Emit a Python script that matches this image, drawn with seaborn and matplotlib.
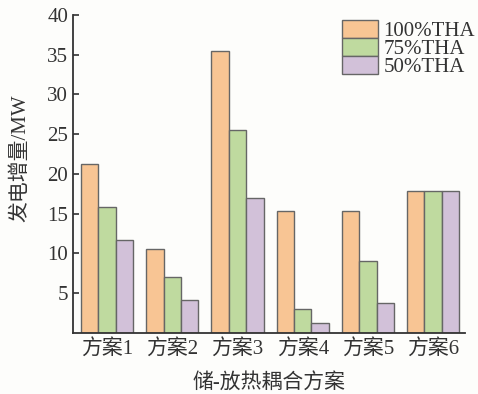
import pandas as pd
import numpy as np
import seaborn as sns
import matplotlib.pyplot as plt

schemes = ["方案1", "方案2", "方案3", "方案4", "方案5", "方案6"]
series = ["100%THA", "75%THA", "50%THA"]
tha100 = [21.3, 10.6, 35.5, 15.4, 15.4, 17.8]
tha75 = [15.9, 7.0, 25.5, 3.0, 9.1, 17.8]
tha50 = [11.7, 4.1, 17.0, 1.2, 3.8, 17.8]
colors = ["#F8C594", "#BFDA9F", "#D2C1D9"]

df = pd.DataFrame({
    "scheme": schemes * 3,
    "case": [s for s in series for _ in schemes],
    "value": tha100 + tha75 + tha50,
})

sns.set_style("ticks")
plt.rcParams["font.family"] = ["Liberation Serif", "Noto Sans CJK SC"]
plt.rcParams["axes.unicode_minus"] = False

fig = plt.figure(figsize=(4.78, 3.94), dpi=100, facecolor="#FDFDFB")
ax = fig.add_axes([0.153, 0.155, 0.82, 0.807])
ax.set_facecolor("#FDFDFB")

sns.barplot(data=df, x="scheme", y="value", hue="case", palette=colors,
            saturation=1, width=0.8, edgecolor="#666666", linewidth=1, ax=ax)

ax.set_ylim(0, 40)
ax.set_xlim(-0.52, 5.49)
ax.set_yticks([5, 10, 15, 20, 25, 30, 35, 40])
ax.tick_params(axis="both", direction="in", labelsize=15, color="#333333",
               width=1.2, length=4, labelcolor="#333333")
ax.tick_params(axis="x", pad=4)
ax.set_ylabel("发电增量/MW", fontsize=15, color="#333333")
ax.set_xlabel("储-放热耦合方案", fontsize=15, color="#333333", labelpad=10)
ax.yaxis.set_label_coords(-0.11, 0.55)
sns.despine(ax=ax)
for sp in ["left", "bottom"]:
    ax.spines[sp].set_linewidth(1.3)
    ax.spines[sp].set_color("#333333")

leg = ax.legend(loc="upper right", frameon=False, fontsize=15, handlelength=1.73,
                handleheight=0.95, labelspacing=-0.15, handletextpad=0.25,
                borderaxespad=0, borderpad=0, bbox_to_anchor=(1.025, 0.985))
for t in leg.get_texts():
    t.set_color("#333333")

fig.savefig("out.png", dpi=100, facecolor=fig.get_facecolor())
